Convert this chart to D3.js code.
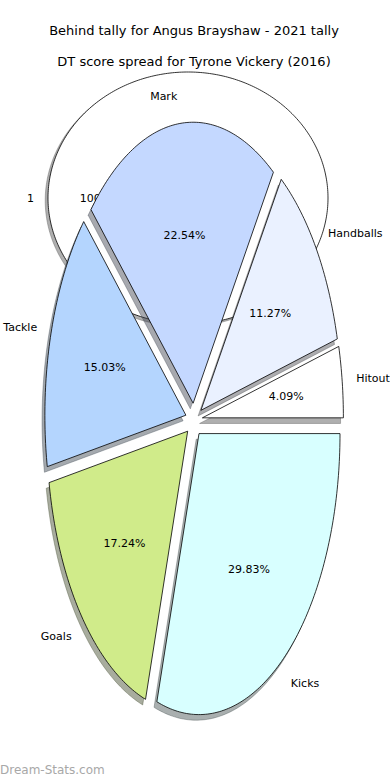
<!DOCTYPE html>
<html>
<head>
<meta charset="utf-8">
<script src="https://cdn.jsdelivr.net/npm/d3@7"></script>
<style>
  html, body { margin: 0; padding: 0; background: #fff; }
  svg { display: block; font-family: "DejaVu Sans", sans-serif; }
</style>
</head>
<body>
<svg id="chart" width="390" height="780"></svg>
<script>
// front pie: DT score spread, order as drawn (counter-clockwise from east)
const categories = ['Hitout', 'Handballs', 'Mark', 'Tackle', 'Goals', 'Kicks'];
const shares = [4.09, 11.27, 22.54, 15.03, 17.24, 29.83];
const sliceColors = ['#ffffff', '#eaf1ff', '#c4d8ff', '#b4d5fe', '#d0eb8a', '#d8ffff'];

// background pie: behind tally (single slice)
const bgCategories = ['1'];
const bgValues = [1];
const bgColors = ['#ffffff'];

const titles = [
  'Behind tally for Angus Brayshaw - 2021 tally',
  'DT score spread for Tyrone Vickery (2016)'
];

const svg = d3.select('#chart');

// matplotlib-like darker shadow colour
function shadowColor(c) {
  const rgb = d3.rgb(c);
  return d3.rgb(rgb.r * 0.3, rgb.g * 0.3, rgb.b * 0.3).formatHex();
}

/**
 * Draws one elliptical pie in its own layer.
 * Angles run counter-clockwise from east, like matplotlib.
 */
function drawPie(layer, opts) {
  const x = d3.scaleLinear().domain([-1, 1]).range([opts.cx - opts.rx, opts.cx + opts.rx]);
  const y = d3.scaleLinear().domain([-1, 1]).range([opts.cy + opts.ry, opts.cy - opts.ry]);
  const line = d3.line().x(d => x(d[0])).y(d => y(d[1]));

  const arcs = d3.pie().sort(null).startAngle(0).endAngle(2 * Math.PI)(opts.values);

  const slices = arcs.map((a, i) => {
    const mid = (a.startAngle + a.endAngle) / 2;
    const ox = opts.explode * Math.cos(mid);
    const oy = opts.explode * Math.sin(mid);
    const pts = [];
    const full = a.endAngle - a.startAngle >= 2 * Math.PI - 1e-9;
    if (!full) pts.push([ox, oy]);
    const n = Math.max(8, Math.ceil((a.endAngle - a.startAngle) * 60));
    for (let k = 0; k <= n; k++) {
      const t = a.startAngle + (a.endAngle - a.startAngle) * k / n;
      pts.push([ox + Math.cos(t), oy + Math.sin(t)]);
    }
    return { i, mid, ox, oy, pts };
  });

  // shadows under everything
  layer.selectAll('.shadow')
    .data(slices)
    .enter()
    .append('path')
    .attr('class', 'shadow')
    .attr('d', d => line(d.pts.map(p => [p[0] - 0.02, p[1] - 0.02])) + 'Z')
    .attr('fill', d => shadowColor(opts.colors[d.i]))
    .attr('fill-opacity', 0.45)
    .attr('stroke', d => shadowColor(opts.colors[d.i]))
    .attr('stroke-opacity', 0.45)
    .attr('stroke-width', 0.8);

  layer.selectAll('.wedge')
    .data(slices)
    .enter()
    .append('path')
    .attr('class', 'wedge')
    .attr('d', d => line(d.pts) + 'Z')
    .attr('fill', d => opts.colors[d.i])
    .attr('stroke', '#000')
    .attr('stroke-width', 0.8)
    .attr('stroke-linejoin', 'miter');

  // outer labels
  layer.selectAll('.label')
    .data(slices)
    .enter()
    .append('text')
    .attr('class', 'label')
    .attr('x', d => x(d.ox + opts.labelDist * Math.cos(d.mid)))
    .attr('y', d => y(d.oy + opts.labelDist * Math.sin(d.mid)))
    .attr('dy', '0.35em')
    .attr('text-anchor', d => (Math.cos(d.mid) > 0 ? 'start' : 'end'))
    .style('font-size', '11px')
    .style('fill', '#000')
    .text(d => opts.labels[d.i]);

  // percentage labels
  const total = d3.sum(opts.values);
  layer.selectAll('.pct')
    .data(slices)
    .enter()
    .append('text')
    .attr('class', 'pct')
    .attr('x', d => x(d.ox + opts.pctDist * Math.cos(d.mid)))
    .attr('y', d => y(d.oy + opts.pctDist * Math.sin(d.mid)))
    .attr('dy', '0.35em')
    .attr('text-anchor', 'middle')
    .style('font-size', '11px')
    .style('fill', '#000')
    .text(d => (opts.values[d.i] / total * 100).toFixed(opts.pctDigits) + '%');
}

// background pie first, front pie on top
drawPie(svg.append('g'), {
  cx: 188, cy: 198, rx: 140, ry: 126,
  values: bgValues, labels: bgCategories, colors: bgColors,
  explode: 0, labelDist: 1.1, pctDist: 0.66, pctDigits: 0
});

drawPie(svg.append('g'), {
  cx: 194, cy: 420, rx: 141, ry: 281,
  values: shares, labels: categories, colors: sliceColors,
  explode: 0.06, labelDist: 1.1, pctDist: 0.6, pctDigits: 2
});

// titles
svg.selectAll('.title')
  .data(titles)
  .enter()
  .append('text')
  .attr('class', 'title')
  .attr('x', 194)
  .attr('y', (d, i) => 30 + i * 31)
  .attr('dy', '0.35em')
  .attr('text-anchor', 'middle')
  .style('font-size', '13px')
  .style('fill', '#000')
  .text(d => d);

// watermark
svg.append('text')
  .attr('x', 0)
  .attr('y', 770)
  .attr('dy', '0.35em')
  .style('font-size', '12px')
  .style('fill', '#a8a8a8')
  .text('Dream-Stats.com');
</script>
</body>
</html>
